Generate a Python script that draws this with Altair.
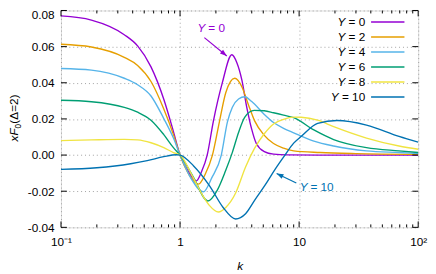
import altair as alt
import pandas as pd

# ---------------- data ----------------
Y_VALUES = [0, 2, 4, 6, 8, 10]
SERIES = ["Y = 0", "Y = 2", "Y = 4", "Y = 6", "Y = 8", "Y = 10"]
COLORS = ["#9400d3", "#e69f00", "#56b4e9", "#009e73", "#f0e442", "#0072b2"]

k_y0 = [0.1, 0.18, 0.34, 0.44, 0.57, 0.73, 0.88, 1.0, 1.2, 1.37, 1.52, 1.69, 1.9, 2.26, 2.72, 3.0, 3.31, 3.62, 3.99, 4.37, 5.1, 6.1, 8.0, 15.0, 100.0]
v_y0 = [0.077, 0.0747, 0.0666, 0.0604, 0.0488, 0.0309, 0.013, 0.0, -0.0102, -0.0143, -0.009, 0.0, 0.0184, 0.0398, 0.0555, 0.0511, 0.0413, 0.027, 0.0145, 0.0064, 0.0019, 0.0005, 0.0001, 0.0, 0.0]

k_y2 = [0.1, 0.18, 0.34, 0.44, 0.57, 0.73, 0.88, 1.0, 1.2, 1.43, 1.63, 1.87, 2.14, 2.42, 2.88, 3.31, 3.75, 4.23, 5.1, 6.1, 7.4, 9.0, 15.0, 30.0, 100.0]
v_y2 = [0.0613, 0.0598, 0.0541, 0.0496, 0.0407, 0.0255, 0.0113, 0.0, -0.0112, -0.0161, -0.0105, 0.0, 0.0184, 0.0345, 0.0425, 0.0377, 0.0279, 0.0189, 0.0109, 0.0064, 0.0038, 0.0023, 0.0014, 0.0008, 0.0004]

k_y4 = [0.1, 0.18, 0.34, 0.44, 0.57, 0.73, 0.88, 1.0, 1.25, 1.57, 1.85, 2.22, 2.5, 2.75, 3.1, 3.5, 4.0, 5.1, 6.1, 7.4, 9.0, 13.3, 19.5, 36.8, 69.0, 100.0]
v_y4 = [0.0479, 0.047, 0.0425, 0.0389, 0.0327, 0.0202, 0.0094, 0.0, -0.0135, -0.0204, -0.0125, 0.0, 0.0184, 0.0265, 0.031, 0.0323, 0.0296, 0.0225, 0.018, 0.0148, 0.0123, 0.0077, 0.005, 0.0023, 0.0014, 0.0009]

k_y6 = [0.1, 0.18, 0.34, 0.44, 0.57, 0.73, 0.88, 1.0, 1.29, 1.71, 2.05, 2.42, 2.75, 3.1, 3.5, 4.2, 5.1, 6.1, 7.4, 9.0, 13.3, 19.5, 36.8, 69.0, 100.0]
v_y6 = [0.0303, 0.0295, 0.0264, 0.0237, 0.0193, 0.0113, 0.0041, 0.0, -0.012, -0.0254, -0.0195, -0.0084, 0.0015, 0.0125, 0.021, 0.0247, 0.0245, 0.0234, 0.0221, 0.0207, 0.0139, 0.0086, 0.0041, 0.0023, 0.0014]

k_y8 = [0.1, 0.18, 0.34, 0.44, 0.57, 0.73, 0.88, 1.0, 1.29, 1.56, 1.77, 2.1, 2.42, 2.93, 3.55, 4.23, 5.1, 6.1, 7.4, 9.0, 10.4, 14.3, 19.5, 36.8, 69.0, 100.0]
v_y8 = [0.008, 0.0084, 0.0087, 0.0084, 0.0068, 0.0041, 0.0014, 0.0, -0.0125, -0.0227, -0.028, -0.0315, -0.029, -0.021, -0.0066, 0.0038, 0.0118, 0.0172, 0.0198, 0.021, 0.0209, 0.0193, 0.0157, 0.0094, 0.005, 0.0032]

k_y10 = [0.1, 0.2, 0.385, 0.53, 0.73, 0.93, 1.0, 1.3, 1.77, 2.3, 2.93, 3.55, 4.28, 5.19, 6.26, 7.6, 9.0, 10.5, 14.3, 20.8, 36.8, 69.0, 100.0]
v_y10 = [-0.0079, -0.007, -0.0048, -0.0031, -0.0009, 0.0002, 0.0, -0.006, -0.017, -0.029, -0.0354, -0.0325, -0.0245, -0.0165, -0.008, 0.0, 0.0066, 0.0105, 0.0175, 0.0191, 0.0166, 0.0103, 0.0071]

K_LIST = [k_y0, k_y2, k_y4, k_y6, k_y8, k_y10]
V_LIST = [v_y0, v_y2, v_y4, v_y6, v_y8, v_y10]

X_TICKS = [0.1, 1, 10, 100]
X_MINOR = [0.2, 0.3, 0.4, 0.5, 0.6, 0.7, 0.8, 0.9, 2, 3, 4, 5, 6, 7, 8, 9, 20, 30, 40, 50, 60, 70, 80, 90]
Y_TICKS = [-0.04, -0.02, 0.0, 0.02, 0.04, 0.06, 0.08]

# annotation anchors (data coordinates)
ANN_TEXT = ["0", "10"]
ANN_COLOR = ["#9400d3", "#0072b2"]
ANN_TEXT_K = [1.40, 10.1]
ANN_TEXT_V = [0.0705, -0.0179]
ANN_TAIL_K = [1.60, 9.47]
ANN_TAIL_V = [0.065, -0.0155]
ANN_HEAD_K = [2.47, 6.47]
ANN_HEAD_V = [0.0548, -0.0102]
ANN_ANGLE = [39.5, 206.1]

# ---------------- chart ----------------
W, H = 364, 221
FONT = "Liberation Sans"

rows = []
for name, ks, vs in zip(SERIES, K_LIST, V_LIST):
    for k, v in zip(ks, vs):
        rows.append({"series": name, "k": k, "v": v})
curves = pd.DataFrame(rows)

x_scale = alt.Scale(type="log", domain=[0.1, 100])
y_scale = alt.Scale(domain=[-0.04, 0.08])

x_axis = alt.Axis(
    values=X_TICKS,
    labelExpr="datum.value < 0.5 ? '10\u207b\u00b9' : datum.value > 50 ? '10\u00b2' : datum.value > 5 ? '10' : '1'",
    ticks=False, tickSize=0, domain=False,
    grid=True, gridColor="#a0a0a0", gridDash=[1, 3], gridWidth=1,
    labelFont=FONT, labelFontSize=12, labelColor="black", labelPadding=9,
    labelOverlap=False, labelFlush=False,
    title="k", titleFont=FONT, titleFontSize=12, titleFontStyle="italic",
    titleFontWeight="normal", titleColor="black", titlePadding=14,
)
y_axis = alt.Axis(
    values=Y_TICKS,
    labelExpr="replace(format(datum.value, '.2f'), '\u2212', '-')",
    ticks=False, tickSize=0, domain=False,
    grid=True, gridColor="#a0a0a0", gridDash=[1, 3], gridWidth=1,
    labelFont=FONT, labelFontSize=12, labelColor="black", labelPadding=7,
    labelOffset={"condition": {"test": "datum.value > 0.075", "value": 4}, "value": 0},
    labelOverlap=False, labelFlush=False, title=None,
)


def XE(f="k:Q"):
    return alt.X(f, scale=x_scale, axis=x_axis)


def YE(f="v:Q"):
    return alt.Y(f, scale=y_scale, axis=y_axis)


color_enc = alt.Color("series:N", scale=alt.Scale(domain=SERIES, range=COLORS), legend=None)

lines = alt.Chart(curves).mark_line(strokeWidth=1.4, interpolate="monotone", clip=True).encode(
    x=XE(), y=YE(), color=color_enc,
)

layers = [lines]

xmaj = pd.DataFrame({"k": X_TICKS})
xmin = pd.DataFrame({"k": X_MINOR})
ymaj = pd.DataFrame({"v": Y_TICKS})
for df, ln in ((xmaj, 6), (xmin, 3)):
    layers.append(alt.Chart(df).mark_rule(color="black", strokeWidth=1).encode(
        x=XE(), y=alt.value(H), y2=alt.value(H - ln)))
    layers.append(alt.Chart(df).mark_rule(color="black", strokeWidth=1).encode(
        x=XE(), y=alt.value(0), y2=alt.value(ln)))
layers.append(alt.Chart(ymaj).mark_rule(color="black", strokeWidth=1).encode(
    y=YE(), x=alt.value(0), x2=alt.value(6)))
layers.append(alt.Chart(ymaj).mark_rule(color="black", strokeWidth=1).encode(
    y=YE(), x=alt.value(W - 6), x2=alt.value(W)))

# legend (gnuplot style: label then sample)
for i, (yv, col) in enumerate(zip(Y_VALUES, COLORS)):
    ry = 11.7 + 15.3 * i
    d = pd.DataFrame({"lab": ["= %d" % yv]})
    layers.append(alt.Chart(d).mark_text(align="right", baseline="middle", font=FONT, fontSize=12, color="black").encode(
        x=alt.value(310), y=alt.value(ry), text="lab:N"))
    layers.append(alt.Chart(d).mark_text(align="right", baseline="middle", font=FONT, fontSize=12, fontStyle="italic", color="black").encode(
        x=alt.value(310 - 20.3 - 6.7 * (len(str(yv)) - 1)), y=alt.value(ry), text=alt.value("Y")))
    layers.append(alt.Chart(d).mark_rule(strokeWidth=1.4, color=col).encode(
        x=alt.value(316), x2=alt.value(350), y=alt.value(ry)))

# annotations with arrows
ARROW = "M0,0L-1,-0.36L-1,0.36Z"
for i in range(2):
    d = pd.DataFrame({
        "k": [ANN_TEXT_K[i]], "v": [ANN_TEXT_V[i]], "lab": ["= " + ANN_TEXT[i]],
    })
    layers.append(alt.Chart(d).mark_text(align="left", baseline="middle", font=FONT, fontSize=12, fontStyle="italic", color=ANN_COLOR[i]).encode(
        x=XE(), y=YE(), text=alt.value("Y")))
    layers.append(alt.Chart(d).mark_text(align="left", baseline="middle", font=FONT, fontSize=12, dx=11, color=ANN_COLOR[i]).encode(
        x=XE(), y=YE(), text="lab:N"))
    a = pd.DataFrame({"k": [ANN_TAIL_K[i]], "v": [ANN_TAIL_V[i]], "k2": [ANN_HEAD_K[i]], "v2": [ANN_HEAD_V[i]]})
    layers.append(alt.Chart(a).mark_rule(strokeWidth=1.2, color=ANN_COLOR[i]).encode(
        x=XE(), y=YE(), x2="k2:Q", y2="v2:Q"))
    h = pd.DataFrame({"k": [ANN_HEAD_K[i]], "v": [ANN_HEAD_V[i]]})
    layers.append(alt.Chart(h).mark_point(shape=ARROW, size=196, filled=True, opacity=1, angle=ANN_ANGLE[i], color=ANN_COLOR[i], strokeWidth=0).encode(
        x=XE(), y=YE()))

# y-axis title: x F_0 (Δ=2), rotated
title_parts = [
    ("x", 133.5, -44.0, 12, "italic"),
    ("F", 127.5, -44.0, 12, "italic"),
    ("0", 120.2, -41.0, 8.5, "normal"),
    ("(\u0394=2)", 115.3, -44.0, 12, "normal"),
]
for txt, ty, tx, fs, st in title_parts:
    layers.append(alt.Chart(pd.DataFrame({"t": [txt]})).mark_text(
        align="left", baseline="alphabetic", angle=270, font=FONT, fontSize=fs, fontStyle=st, color="black").encode(
        x=alt.value(tx), y=alt.value(ty), text="t:N"))

chart = alt.layer(*layers).properties(
    width=W, height=H,
    autosize=alt.AutoSizeParams(type="none"),
    padding={"left": 54, "top": 0, "right": 10, "bottom": 45},
).configure_view(stroke="black", strokeWidth=1).configure(background="white")

chart.save("out.html", embed_options={"renderer": "svg", "actions": False})
